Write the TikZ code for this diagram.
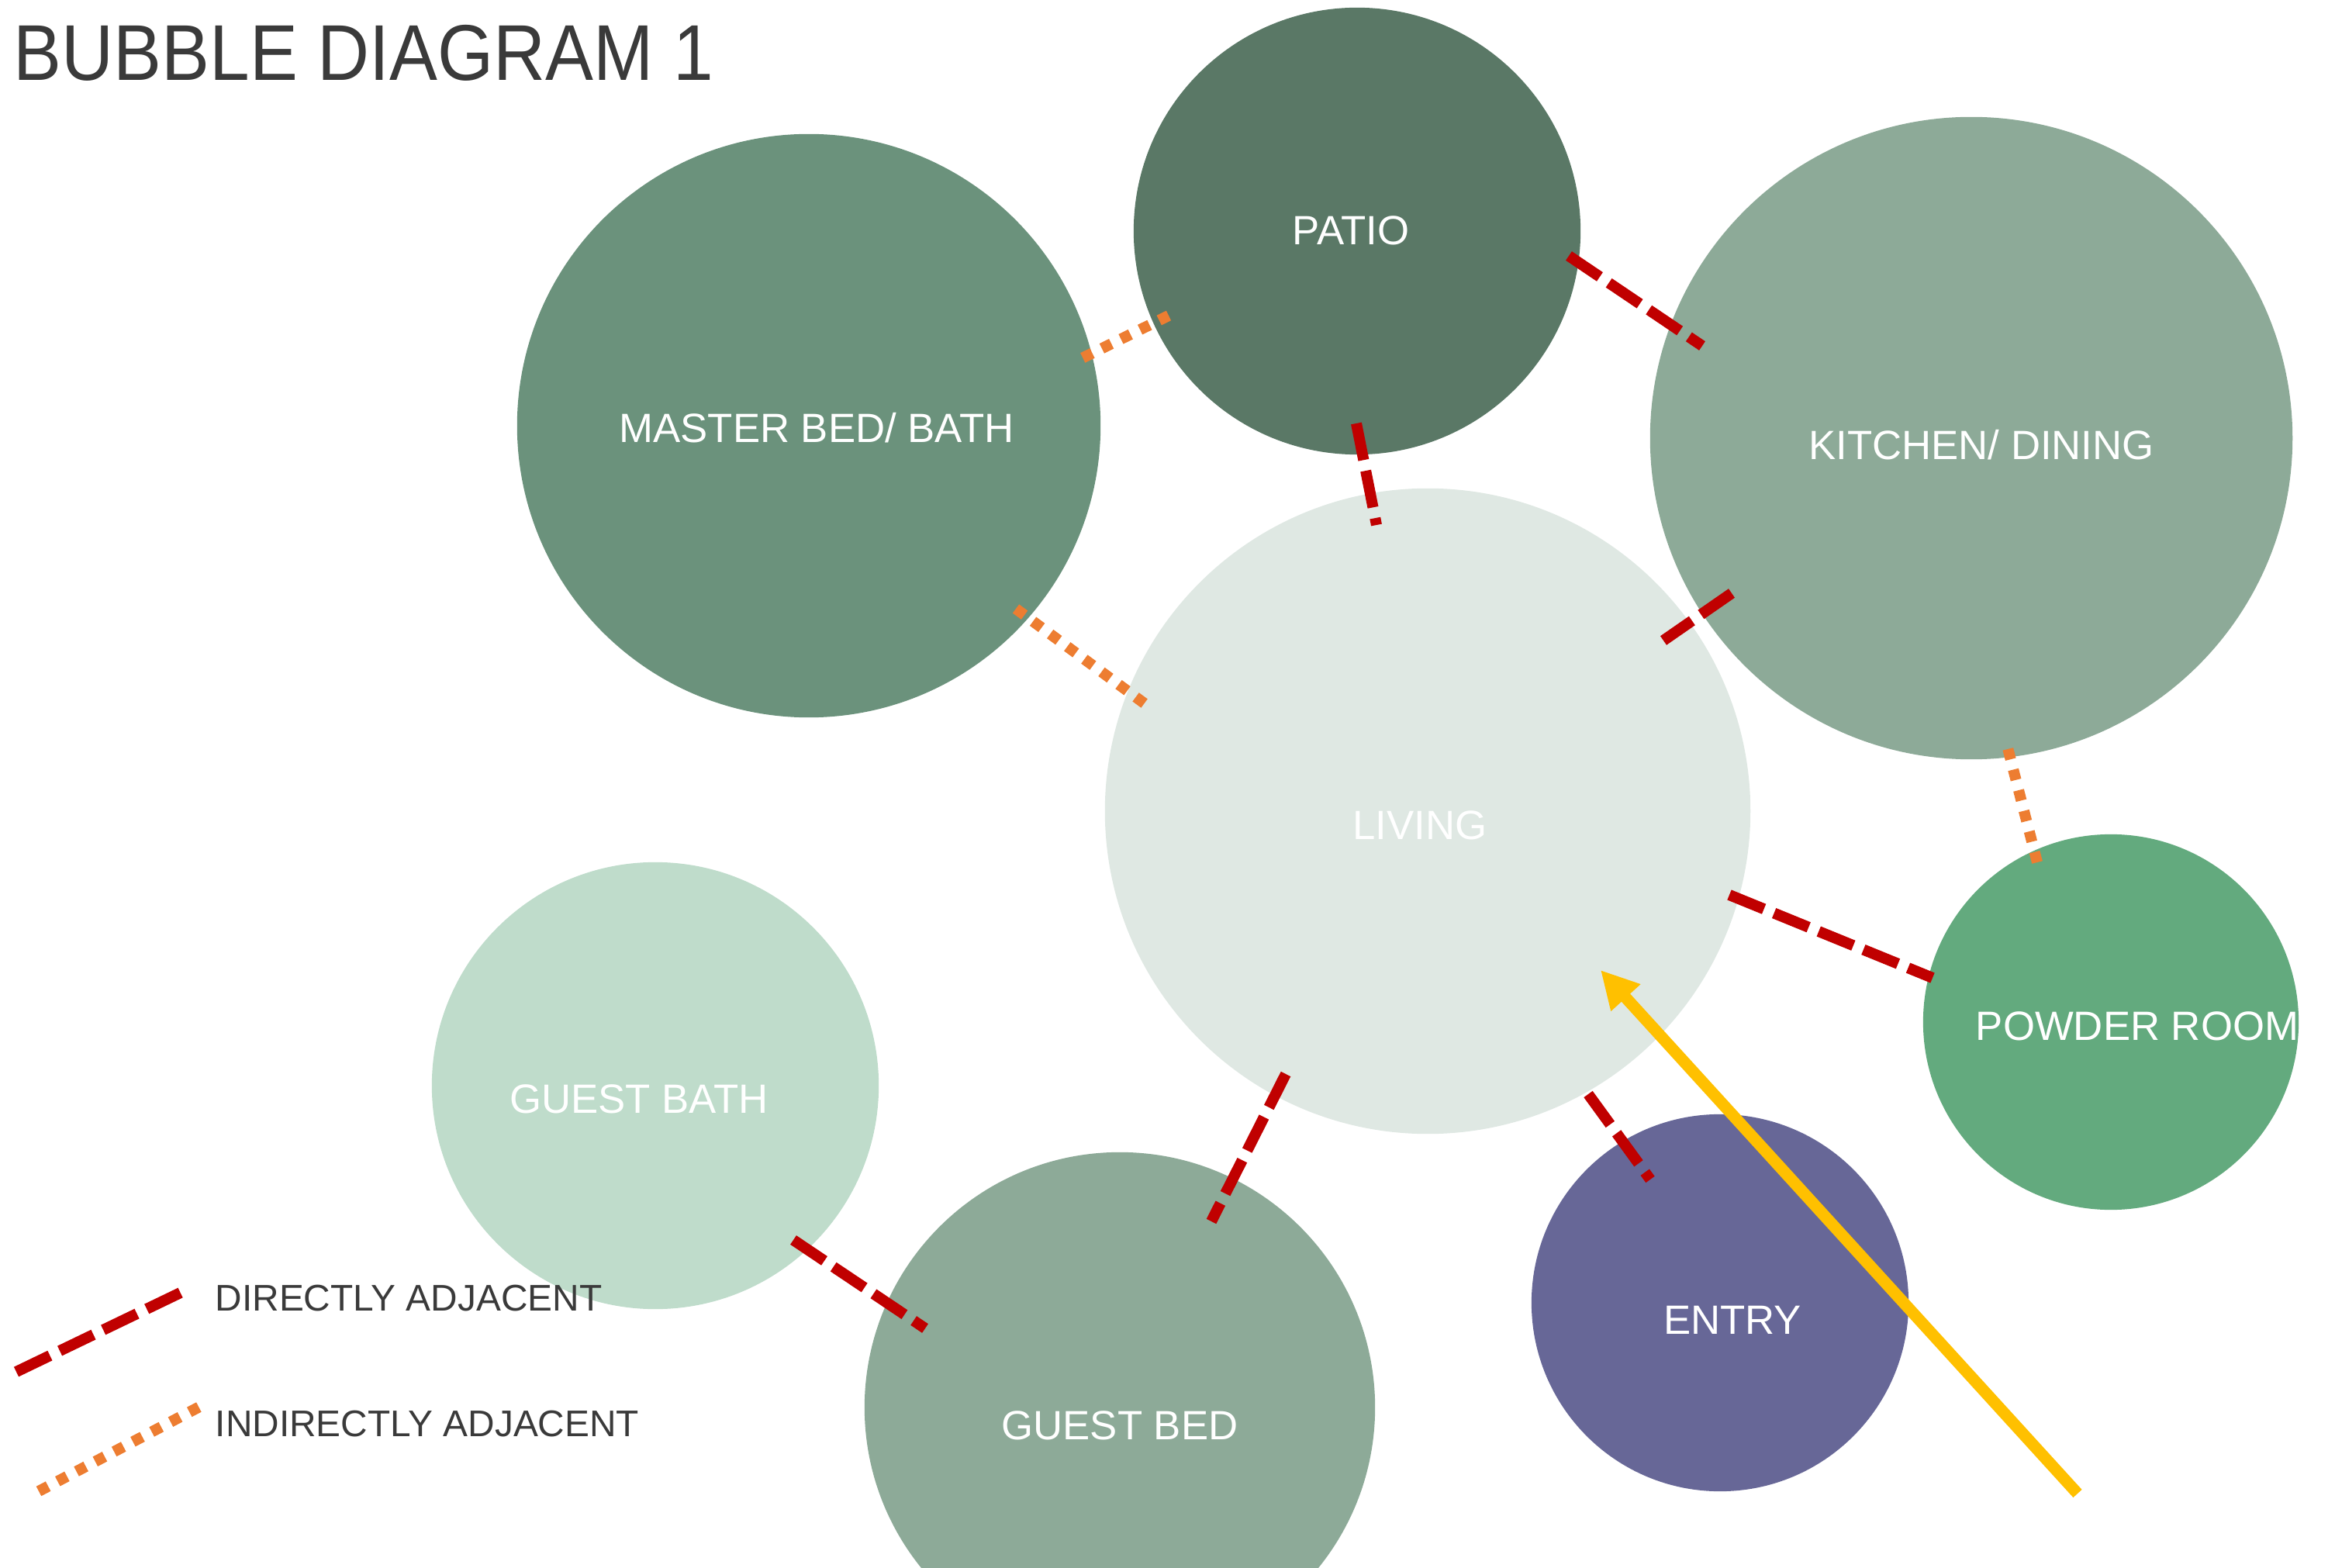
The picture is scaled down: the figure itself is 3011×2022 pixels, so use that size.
\documentclass[tikz,border=0pt]{standalone}
\usepackage{fontspec}
\setmainfont{Liberation Sans}
\newfontfamily\titlefont[FakeStretch=0.91]{Liberation Sans}
\usepackage{tikz}
\usetikzlibrary{calc, arrows.meta}
\definecolor{patioGreen}{HTML}{5A7866}
\definecolor{masterGreen}{HTML}{6B927C}
\definecolor{sageGreen}{HTML}{8DAA98}
\definecolor{livingGrey}{HTML}{DFE8E3}
\definecolor{bathMint}{HTML}{BFDCCB}
\definecolor{entryBlue}{HTML}{676797}
\definecolor{powderGreen}{HTML}{63AA7E}
\definecolor{adjRed}{HTML}{C00000}
\definecolor{adjOrange}{HTML}{ED7D31}
\definecolor{entryYellow}{HTML}{FFC000}
\definecolor{mainGrey}{HTML}{3A3A3A}
\tikzset{
  bubble/.style={circle, inner sep=0pt, draw=none},
  room/.style={text=white, font=\fontsize{15}{18}\selectfont, inner sep=0pt, anchor=base},
  direct/.style={adjRed, line width=4pt, dash pattern=on 13.7pt off 4pt},
  indirect/.style={adjOrange, line width=4pt, dash pattern=on 3.9pt off 3.9pt},
  keyText/.style={text=mainGrey, font=\fontsize{13.6}{16}\selectfont, inner sep=0pt, anchor=base west}
}

\begin{document}
\begin{tikzpicture}[x=0.01cm, y=-0.01cm, >={Triangle[length=13.7pt, width=13.7pt]}]
    \useasboundingbox (0,0) rectangle (3011,2022);
    \clip (0,0) rectangle (3011,2022);

    % bubbles
    \node[bubble, fill=patioGreen, minimum size=5.76cm] (patio) at (1750,298) {};
    \node[bubble, fill=masterGreen, minimum size=7.52cm] (master) at (1043,549) {};
    \node[bubble, fill=sageGreen, minimum size=8.28cm] (kitchen) at (2542,565) {};
    \node[bubble, fill=livingGrey, minimum size=8.32cm] (living) at (1841,1046) {};
    \node[bubble, fill=bathMint, minimum size=5.76cm] (guestbath) at (845,1400) {};
    \node[bubble, fill=sageGreen, minimum size=6.58cm] (guestbed) at (1444,1815) {};
    \node[bubble, fill=entryBlue, minimum size=4.86cm] (entry) at (2218,1680) {};
    \node[bubble, fill=powderGreen, minimum size=4.84cm] (powder) at (2722,1318) {};

    % room names
    \node[room] (patioText) at ($(patio)+(-8,18)$) {PATIO};
    \node[room] (masterText) at ($(master)+(10,22)$) {MASTER BED/ BATH};
    \node[room] (kitchenText) at ($(kitchen)+(13,28)$) {KITCHEN/ DINING};
    \node[room] (livingText) at ($(living)+(-10,37)$) {LIVING};
    \node[room] (guestbathText) at ($(guestbath)+(-21,35)$) {GUEST BATH};
    \node[room] (guestbedText) at ($(guestbed)+(0,41)$) {GUEST BED};
    \node[room] (entryText) at ($(entry)+(16,40)$) {ENTRY};
    \node[room] (powderText) at ($(powder)+(34,23)$) {POWDER ROOM};

    % adjacency ends
    \coordinate (PK1) at (2023,330);  \coordinate (PK2) at (2195,446);
    \coordinate (PL1) at (1749,546);  \coordinate (PL2) at (1775,677);
    \coordinate (KL1) at (2233,765);  \coordinate (KL2) at (2145,826);
    \coordinate (MP1) at (1507,407);  \coordinate (MP2) at (1389,465);
    \coordinate (ML1) at (1310,785);  \coordinate (ML2) at (1481,911);
    \coordinate (PwK1) at (2627,1112); \coordinate (PwK2) at (2587,957);
    \coordinate (LPw1) at (2230,1154); \coordinate (LPw2) at (2492,1261);
    \coordinate (LE1) at (2048,1411); \coordinate (LE2) at (2128,1521);
    \coordinate (LG1) at (1658,1385); \coordinate (LG2) at (1562,1575);
    \coordinate (GG1) at (1023,1599); \coordinate (GG2) at (1193,1713);

    \draw[direct] (PK1) -- (PK2);
    \draw[direct] (PL1) -- (PL2);
    \draw[direct] (KL1) -- (KL2);
    \draw[direct] (LPw1) -- (LPw2);
    \draw[direct] (LE1) -- (LE2);
    \draw[direct] (LG1) -- (LG2);
    \draw[direct] (GG1) -- (GG2);
    \draw[indirect] (MP1) -- (MP2);
    \draw[indirect] (ML1) -- (ML2);
    \draw[indirect] (PwK1) -- (PwK2);

    % way in
    \coordinate (inTail) at (2679,1926);
    \coordinate (inTip) at (2064,1251);
    \draw[->, entryYellow, line width=4.3pt] (inTail) -- (inTip);

    % title and key
    \node[text=mainGrey, inner sep=0pt, anchor=base west, font=\titlefont\fontsize{29}{34}\selectfont] (title) at (17,104) {BUBBLE DIAGRAM 1};
    \coordinate (keyA1) at (21,1769);  \coordinate (keyA2) at (241,1663);
    \coordinate (keyB1) at (50,1923);  \coordinate (keyB2) at (265,1810);
    \draw[direct] (keyA1) -- (keyA2);
    \draw[indirect] (keyB1) -- (keyB2);
    \node[keyText] (directKey) at (277,1690) {DIRECTLY ADJACENT};
    \node[keyText] (indirectKey) at (277,1852) {INDIRECTLY ADJACENT};
\end{tikzpicture}
\end{document}
